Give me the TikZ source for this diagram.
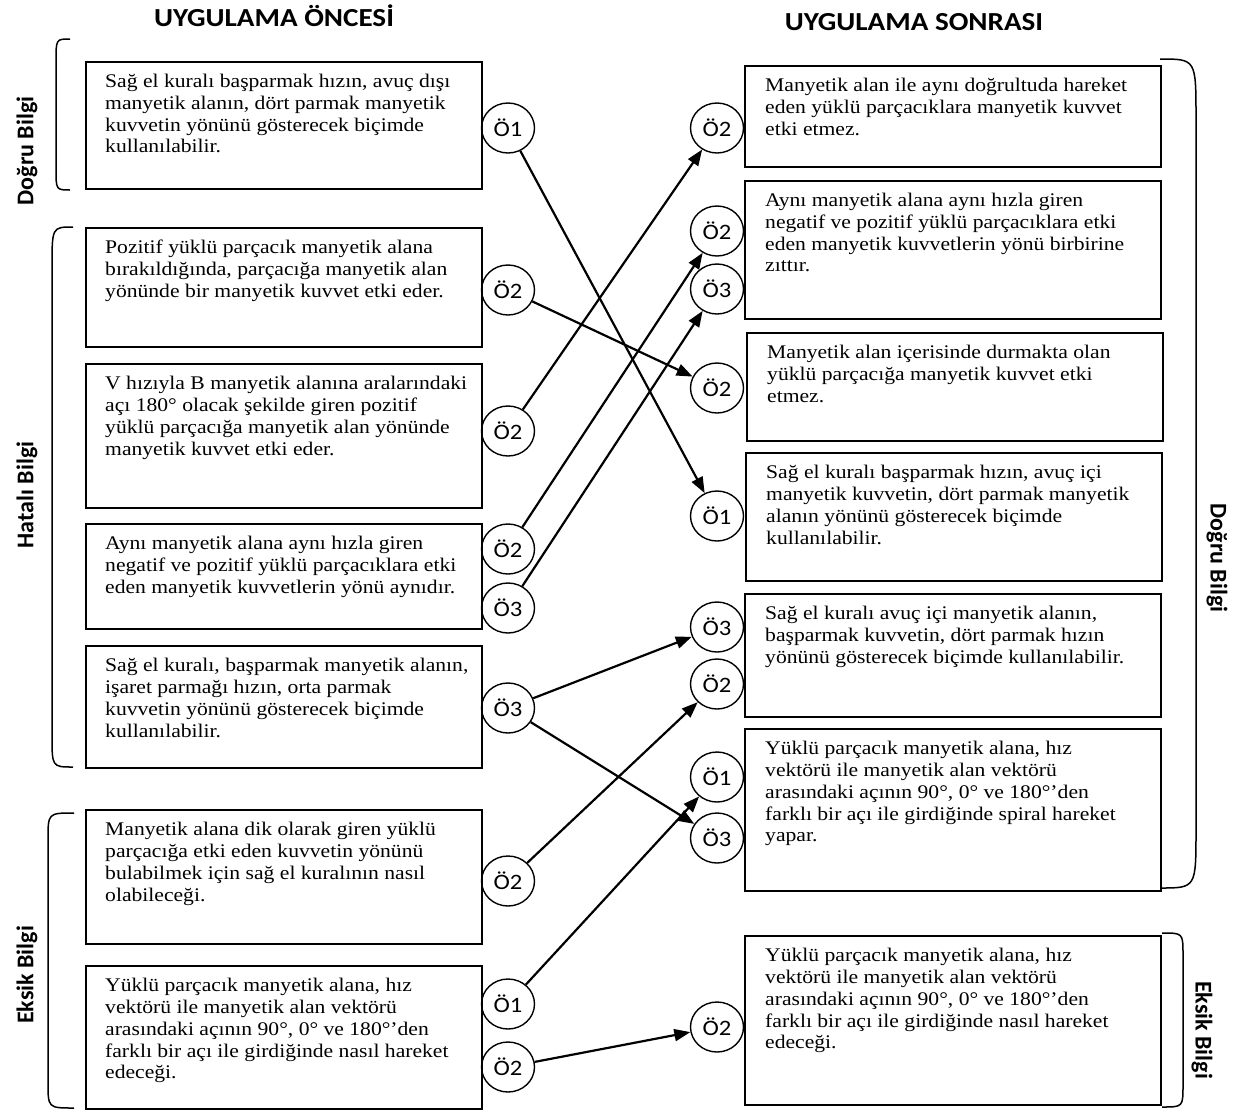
\documentclass[tikz,border=0pt]{standalone}
\usepackage{fontspec}
\setmainfont{Liberation Serif}[FakeStretch=1.12]
\newfontfamily\circfont{Carlito}[FakeStretch=1.12]
\newfontfamily\titlefont{Carlito}[FakeStretch=1.12]
\newfontfamily\sidefont{Carlito}
\usetikzlibrary{arrows.meta,shapes.geometric}
\tikzset{
  box/.style={draw, line width=1.8pt, anchor=north west, inner sep=0pt},
  lbox/.style={box, minimum width=396pt},
  rbox/.style={box, minimum width=416pt},
  txt/.style={anchor=north west, inner sep=0pt, align=left, font=\fontsize{19.3pt}{21.8pt}\selectfont},
  oc/.style={draw, ellipse, line width=1.4pt, minimum width=53pt, minimum height=50pt, inner sep=0pt, font=\circfont\fontsize{22pt}{24pt}\selectfont},
  conn/.style={line width=2.2pt, -{Triangle[length=16pt,width=12pt]}},
  brc/.style={line width=1.5pt},
  ttl/.style={anchor=base, inner sep=0pt, font=\titlefont\bfseries\fontsize{26pt}{30pt}\selectfont},
  side/.style={inner sep=0pt, font=\sidefont\bfseries\fontsize{24pt}{28pt}\selectfont}
}
\begin{document}
\begin{tikzpicture}[x=1pt,y=-1pt]
\useasboundingbox (0,0) rectangle (1237,1112);
% titles
\node[ttl] (t1) at (274,26) {UYGULAMA ÖNCESİ};
\node[ttl] (t2) at (914,30) {UYGULAMA SONRASI};
% side labels
\node[side, rotate=90] (s1) at (27,151) {Doğru Bilgi};
\node[side, rotate=90] (s2) at (27,495) {Hatalı Bilgi};
\node[side, rotate=90] (s3) at (27,975) {Eksik Bilgi};
\node[side, rotate=-90] (s4) at (1217,558) {Doğru Bilgi};
\node[side, rotate=-90] (s5) at (1202,1030) {Eksik Bilgi};
% braces
\draw[brc] (70,39) .. controls (56,39) .. (56,62) -- (56,168) .. controls (56,190) .. (70,190);
\draw[brc] (73,227) .. controls (52,227) .. (52,268) -- (52,735) .. controls (52,767) .. (73,767);
\draw[brc] (74,813) .. controls (48,813) .. (48,840) -- (48,1082) .. controls (48,1108) .. (74,1108);
\draw[brc] (1160,59) .. controls (1196,59) .. (1196,118) -- (1196,830) .. controls (1196,888) .. (1160,888);
\draw[brc] (1162,933) .. controls (1183,933) .. (1183,955) -- (1183,1085) .. controls (1183,1107) .. (1162,1107);
% left boxes
\node[lbox, minimum height=127pt] (L1) at (85,61) {};
\node[txt] (L1t) at ([xshift=20pt,yshift=-13pt]L1.north west) {Sağ el kuralı başparmak hızın, avuç dışı\\manyetik alanın, dört parmak manyetik\\kuvvetin yönünü gösterecek biçimde\\kullanılabilir.};
\node[lbox, minimum height=119pt] (L2) at (85,227) {};
\node[txt] (L2t) at ([xshift=20pt,yshift=-13pt]L2.north west) {Pozitif yüklü parçacık manyetik alana\\bırakıldığında, parçacığa manyetik alan\\yönünde bir manyetik kuvvet etki eder.};
\node[lbox, minimum height=144pt] (L3) at (85,363) {};
\node[txt] (L3t) at ([xshift=20pt,yshift=-13pt]L3.north west) {V hızıyla B manyetik alanına aralarındaki\\açı 180° olacak şekilde giren pozitif\\yüklü parçacığa manyetik alan yönünde\\manyetik kuvvet etki eder.};
\node[lbox, minimum height=105pt] (L4) at (85,523) {};
\node[txt] (L4t) at ([xshift=20pt,yshift=-13pt]L4.north west) {Aynı manyetik alana aynı hızla giren\\negatif ve pozitif yüklü parçacıklara etki\\eden manyetik kuvvetlerin yönü aynıdır.};
\node[lbox, minimum height=122pt] (L5) at (85,645) {};
\node[txt] (L5t) at ([xshift=20pt,yshift=-13pt]L5.north west) {Sağ el kuralı, başparmak manyetik alanın,\\işaret parmağı hızın, orta parmak\\kuvvetin yönünü gösterecek biçimde\\kullanılabilir.};
\node[lbox, minimum height=134pt] (L6) at (85,809) {};
\node[txt] (L6t) at ([xshift=20pt,yshift=-13pt]L6.north west) {Manyetik alana dik olarak giren yüklü\\parçacığa etki eden kuvvetin yönünü\\bulabilmek için sağ el kuralının nasıl\\olabileceği.};
\node[lbox, minimum height=143pt] (L7) at (85,965) {};
\node[txt] (L7t) at ([xshift=20pt,yshift=-13pt]L7.north west) {Yüklü parçacık manyetik alana, hız\\vektörü ile manyetik alan vektörü\\arasındaki açının 90°, 0° ve 180°’den\\farklı bir açı ile girdiğinde nasıl hareket\\edeceği.};
% right boxes
\node[rbox, minimum height=101pt] (R1) at (744,65) {};
\node[txt] (R1t) at ([xshift=21pt,yshift=-13pt]R1.north west) {Manyetik alan ile aynı doğrultuda hareket\\eden yüklü parçacıklara manyetik kuvvet\\etki etmez.};
\node[rbox, minimum height=138pt] (R2) at (744,180) {};
\node[txt] (R2t) at ([xshift=21pt,yshift=-13pt]R2.north west) {Aynı manyetik alana aynı hızla giren\\negatif ve pozitif yüklü parçacıklara etki\\eden manyetik kuvvetlerin yönü birbirine\\zıttır.};
\node[rbox, minimum height=108pt] (R3) at (746,332) {};
\node[txt] (R3t) at ([xshift=21pt,yshift=-13pt]R3.north west) {Manyetik alan içerisinde durmakta olan\\yüklü parçacığa manyetik kuvvet etki\\etmez.};
\node[rbox, minimum height=128pt] (R4) at (745,452) {};
\node[txt] (R4t) at ([xshift=21pt,yshift=-13pt]R4.north west) {Sağ el kuralı başparmak hızın, avuç içi\\manyetik kuvvetin, dört parmak manyetik\\alanın yönünü gösterecek biçimde\\kullanılabilir.};
\node[rbox, minimum height=123pt] (R5) at (744,593) {};
\node[txt] (R5t) at ([xshift=21pt,yshift=-13pt]R5.north west) {Sağ el kuralı avuç içi manyetik alanın,\\başparmak kuvvetin, dört parmak hızın\\yönünü gösterecek biçimde kullanılabilir.};
\node[rbox, minimum height=162pt] (R6) at (744,728) {};
\node[txt] (R6t) at ([xshift=21pt,yshift=-13pt]R6.north west) {Yüklü parçacık manyetik alana, hız\\vektörü ile manyetik alan vektörü\\arasındaki açının 90°, 0° ve 180°’den\\farklı bir açı ile girdiğinde spiral hareket\\yapar.};
\node[rbox, minimum height=169pt] (R7) at (744,935) {};
\node[txt] (R7t) at ([xshift=21pt,yshift=-13pt]R7.north west) {Yüklü parçacık manyetik alana, hız\\vektörü ile manyetik alan vektörü\\arasındaki açının 90°, 0° ve 180°’den\\farklı bir açı ile girdiğinde nasıl hareket\\edeceği.};
% left circles
\node[oc] (a1) at (508,128) {Ö1};
\node[oc] (a2) at (508,290) {Ö2};
\node[oc] (a3) at (508,431) {Ö2};
\node[oc] (a4) at (508,549) {Ö2};
\node[oc] (a5) at (508,608) {Ö3};
\node[oc] (a6) at (508,708) {Ö3};
\node[oc] (a7) at (508,881) {Ö2};
\node[oc] (a8) at (508,1004) {Ö1};
\node[oc] (a9) at (508,1067) {Ö2};
% right circles
\node[oc] (b1) at (717,128) {Ö2};
\node[oc] (b2) at (717,231) {Ö2};
\node[oc] (b3) at (717,289) {Ö3};
\node[oc] (b4) at (717,388) {Ö2};
\node[oc] (b5) at (717,516) {Ö1};
\node[oc] (b6) at (717,627) {Ö3};
\node[oc] (b7) at (717,684) {Ö2};
\node[oc] (b8) at (717,777) {Ö1};
\node[oc] (b9) at (717,838) {Ö3};
\node[oc] (b10) at (717,1027) {Ö2};
% connectors
\draw[conn] (a1) -- (b5);
\draw[conn] (a2) -- (b4);
\draw[conn] (a3) -- (b1);
\draw[conn] (a4) -- (b2);
\draw[conn] (a5) -- (b3);
\draw[conn] (a6) -- (b6);
\draw[conn] (a6) -- (b9);
\draw[conn] (a7) -- (b7);
\draw[conn] (a8) -- (b8);
\draw[conn] (a9) -- (b10);
\end{tikzpicture}
\end{document}
